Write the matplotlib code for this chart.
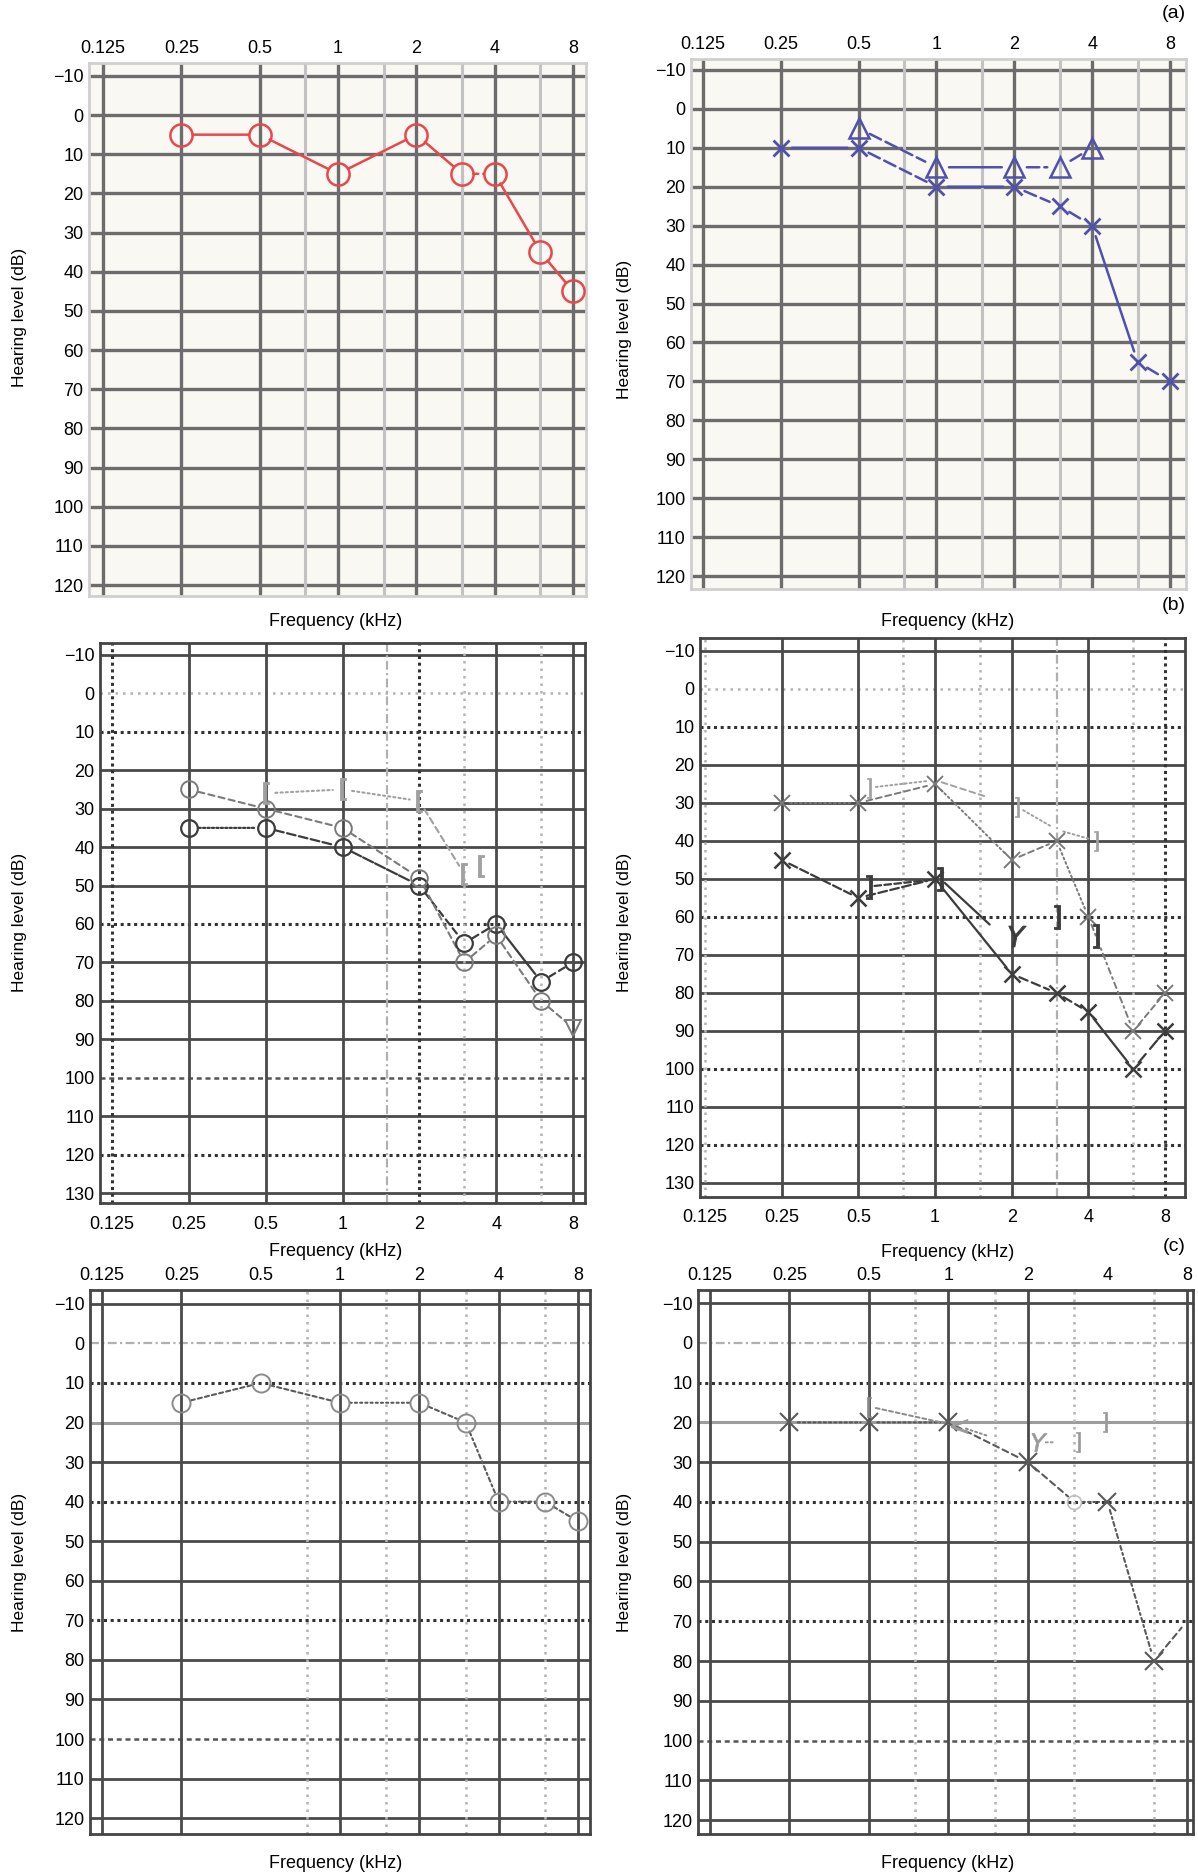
import matplotlib
matplotlib.use('Agg')
import matplotlib.pyplot as plt
from matplotlib.ticker import NullLocator

plt.rcParams['font.family'] = ['Liberation Sans', 'DejaVu Sans']

W, H = 1198, 1876

freq_ticks = [0.125, 0.25, 0.5, 1, 2, 4, 8]
freq_labels = ['0.125', '0.25', '0.5', '1', '2', '4', '8']
levels_120 = list(range(-10, 121, 10))
levels_130 = list(range(-10, 131, 10))

# (a) left ear - red circles
a_left_freq = [0.25, 0.5, 1, 2, 3, 4, 6, 8]
a_left_db = [5, 5, 15, 5, 15, 15, 35, 45]

# (a) right ear - blue crosses and triangles
a_right_x_freq = [0.25, 0.5, 1, 2, 3, 4, 6, 8]
a_right_x_db = [10, 10, 20, 20, 25, 30, 65, 70]
a_right_tri_freq = [0.5, 1, 2, 3, 4]
a_right_tri_db = [5, 15, 15, 15, 10]

# (b) left
b_left_o1_freq = [0.25, 0.5, 1, 2, 3, 4, 6, 8]
b_left_o1_db = [35, 35, 40, 50, 65, 60, 75, 70]
b_left_o2_freq = [0.25, 0.5, 1, 2, 3, 4, 6, 8]
b_left_o2_db = [25, 30, 35, 48, 70, 63, 80, 87]
b_left_bc_freq = [0.5, 1, 2, 3, 3.5]
b_left_bc_db = [26, 25, 28, 47, 45]

# (b) right
b_right_x1_freq = [0.25, 0.5, 1, 2, 3, 4, 6, 8]
b_right_x1_db = [45, 55, 50, 75, 80, 85, 100, 90]
b_right_x2_freq = [0.25, 0.5, 1, 2, 3, 4, 6, 8]
b_right_x2_db = [30, 30, 25, 45, 40, 60, 90, 80]
b_right_bc1_freq = [0.55, 1.05, 1.7, 3, 4.3]
b_right_bc1_db = [52, 50, 63, 60, 65]
b_right_bc2_freq = [0.55, 1.0, 1.7, 2.1, 3, 4.3]
b_right_bc2_db = [26, 24, 29, 31, 37, 40]

# (c) left
c_left_freq = [0.25, 0.5, 1, 2, 3, 4, 6, 8]
c_left_db = [15, 10, 15, 15, 20, 40, 40, 45]

# (c) right
c_right_freq = [0.25, 0.5, 1, 2, 3, 4, 6, 8]
c_right_db = [20, 20, 20, 30, 40, 40, 80, 70]
c_right_bc_freq = [0.5, 1.1, 1.5]
c_right_bc_db = [16, 21, 24]
c_right_bc2_freq = [2.2, 2.7, 3.1, 3.9]
c_right_bc2_db = [25, 25, 25, 20]

KINDS = {
    'a': dict(ls='-', color='#6c6c6c', lw=2.4),
    'al': dict(ls='-', color='#c2c2c2', lw=2.2),
    's': dict(ls='-', color='#4a4a4a', lw=2.0),
    'sl': dict(ls='-', color='#9c9c9c', lw=2.2),
    'd': dict(ls=(0, (1, 1.2)), color='#333333', lw=2.2),
    'dl': dict(ls=(0, (1, 2)), color='#b4b4b4', lw=1.8),
    'dd': dict(ls=(0, (4, 1.5, 1, 1.5)), color='#b0b0b0', lw=1.6),
    'dk': dict(ls=(0, (2, 1.5)), color='#555555', lw=1.8),
}


def make_ax(box, xpad, ylim, levels, top=True, bg='white', spine='#444444'):
    x0, y0, x1, y1 = box
    ax = fig.add_axes([x0 / W, 1 - y1 / H, (x1 - x0) / W, (y1 - y0) / H])
    ax.set_xscale('log', base=2)
    ax.set_xlim(0.125 * 2 ** xpad[0], 8 * 2 ** xpad[1])
    ax.set_ylim(ylim[1], ylim[0])
    ax.set_facecolor(bg)
    ax.set_xticks(freq_ticks, freq_labels)
    ax.xaxis.set_minor_locator(NullLocator())
    ax.set_yticks(levels, [str(v).replace('-', '\u2212') for v in levels])
    if top:
        ax.xaxis.tick_top()
        ax.tick_params(axis='x', length=0, labelsize=13, pad=4)
    else:
        ax.tick_params(axis='x', length=0, labelsize=13, pad=9)
    ax.tick_params(axis='y', length=0, labelsize=13, pad=4)
    for sp in ax.spines.values():
        sp.set_color(spine)
        sp.set_linewidth(2)
    return ax


def grid(ax, hkinds, vkinds):
    for y, k in hkinds.items():
        ax.axhline(y, zorder=1, **KINDS[k])
    for x, k in vkinds.items():
        ax.axvline(x, zorder=1, **KINDS[k])


def connect(ax, f, db, styles, color, lw, shrink):
    for i in range(len(f) - 1):
        if styles[i] is None:
            continue
        ax.annotate('', xy=(f[i + 1], db[i + 1]), xytext=(f[i], db[i]),
                    arrowprops=dict(arrowstyle='-', color=color, lw=lw,
                                    linestyle=styles[i], shrinkA=shrink,
                                    shrinkB=shrink), zorder=3)


fig = plt.figure(figsize=(W / 100, H / 100), dpi=100)

# ---------------- (a) ----------------
a_h = {y: 'a' for y in levels_120}
a_v = {0.125: 'a', 0.25: 'a', 0.5: 'a', 1: 'a', 2: 'a', 4: 'a', 8: 'a',
       0.75: 'al', 1.5: 'al', 3: 'al', 6: 'al'}

ax = make_ax((89, 63, 586, 596), (-0.179, 0.166), (-13.3, 122.8), levels_120,
             bg='#faf8f3', spine='#cfcfcf')
grid(ax, a_h, a_v)
red = '#e8484c'
connect(ax, a_left_freq, a_left_db, ['-', '-', '-', '-', (0, (2, 2)), '-', '-'], red, 1.8, 8)
ax.plot(a_left_freq, a_left_db, ls='none', marker='o', ms=16, mfc='none',
        mec=red, mew=1.8, zorder=4)

ax = make_ax((691, 59, 1186, 589), (-0.154, 0.206), (-12.8, 123.3), levels_120,
             bg='#faf8f3', spine='#cfcfcf')
grid(ax, a_h, a_v)
blue = '#4f50b0'
dash = (0, (5, 2))
connect(ax, a_right_x_freq, a_right_x_db, ['-', dash, '-', dash, dash, '-', dash], blue, 1.8, 8)
connect(ax, a_right_tri_freq, a_right_tri_db, [dash, '-', dash, dash], blue, 1.8, 9)
ax.plot(a_right_x_freq, a_right_x_db, ls='none', marker='x', ms=11,
        mec=blue, mew=2.0, zorder=4)
ax.plot(a_right_tri_freq, a_right_tri_db, ls='none', marker='^', ms=14,
        mfc='none', mec=blue, mew=1.8, zorder=4)

# ---------------- (b) ----------------
ax = make_ax((100, 643, 585, 1203), (-0.156, 0.156), (-13.1, 132.6), levels_130, top=False)
bh = {-10: 's', 0: 'dl', 10: 'd', 20: 's', 30: 's', 40: 's', 50: 's', 60: 'd',
      70: 's', 80: 's', 90: 's', 100: 'dk', 110: 's', 120: 'd', 130: 's'}
grid(ax, bh, {0.125: 'd', 0.25: 's', 0.5: 's', 1: 's', 1.5: 'dd', 2: 'd',
              3: 'dl', 4: 's', 6: 'dl', 8: 's'})
dark, mid, light = '#3c3c3c', '#7a7a7a', '#a0a0a0'
connect(ax, b_left_o1_freq, b_left_o1_db,
        [(0, (1, 1)), (0, (4, 1.5)), (0, (5, 1)), (0, (3, 2)), (0, (3, 2)), '-', (0, (3, 2))],
        dark, 1.6, 7)
connect(ax, b_left_o2_freq, b_left_o2_db, [(0, (3, 2))] * 7, mid, 1.5, 7)
connect(ax, b_left_bc_freq, b_left_bc_db,
        [(0, (1, 1.5)), (0, (1, 1.5)), (0, (3, 2)), None], light, 1.5, 7)
ax.plot(b_left_o1_freq, b_left_o1_db, ls='none', marker='o', ms=12, mfc='none',
        mec=dark, mew=1.6, zorder=4)
ax.plot(b_left_o2_freq[:-1], b_left_o2_db[:-1], ls='none', marker='o', ms=12,
        mfc='none', mec=mid, mew=1.4, zorder=4)
ax.plot(b_left_o2_freq[-1:], b_left_o2_db[-1:], ls='none', marker='v', ms=11,
        mfc='none', mec=mid, mew=1.4, zorder=4)
ax.plot(b_left_bc_freq, b_left_bc_db, ls='none', marker='$[$', ms=16,
        mec=light, mfc=light, mew=0.6, zorder=4)

ax = make_ax((700, 638, 1185, 1197), (-0.066, 0.26), (-13.4, 133.7), levels_130, top=False)
bh2 = dict(bh)
bh2[100] = 'd'
grid(ax, bh2, {0.125: 'dl', 0.25: 's', 0.5: 's', 0.75: 'dl', 1: 's', 1.5: 'dl',
               2: 's', 3: 'dd', 4: 's', 6: 'dl', 8: 'd'})
connect(ax, b_right_x1_freq, b_right_x1_db,
        [(0, (4, 1.5)), (0, (4, 1.5)), '-', (0, (4, 2)), (0, (4, 2)), '-', (0, (5, 3))],
        dark, 1.6, 6)
connect(ax, b_right_x2_freq, b_right_x2_db,
        [(0, (1, 1.5)), (0, (3, 2)), (0, (1, 1.5)), (0, (3, 2)), (0, (1, 1.5)),
         (0, (3, 2, 1, 2)), (0, (3, 2))], mid, 1.4, 6)
connect(ax, b_right_bc1_freq, b_right_bc1_db, [(0, (3, 1.5)), '-', None, None], dark, 1.6, 4)
connect(ax, b_right_bc2_freq, b_right_bc2_db,
        [(0, (1, 1.5)), (0, (3, 2)), None, (0, (1, 1.5)), (0, (1, 1.5))], light, 1.4, 5)
ax.plot(b_right_x1_freq, b_right_x1_db, ls='none', marker='x', ms=12,
        mec=dark, mew=1.8, zorder=4)
ax.plot(b_right_x2_freq, b_right_x2_db, ls='none', marker='x', ms=11,
        mec=mid, mew=1.4, zorder=4)
ax.plot([b_right_bc1_freq[i] for i in (0, 1, 3, 4)], [b_right_bc1_db[i] for i in (0, 1, 3, 4)],
        ls='none', marker='$]$', ms=17, mec=dark, mfc=dark, mew=0.6, zorder=4)
ax.plot([2.1], [65], ls='none', marker='$Y$', ms=15, mec=dark, mfc=dark, mew=0.6, zorder=4)
ax.plot([b_right_bc2_freq[i] for i in (0, 3, 5)], [b_right_bc2_db[i] for i in (0, 3, 5)],
        ls='none', marker='$]$', ms=15, mec=light, mfc=light, mew=0.5, zorder=4)

# ---------------- (c) ----------------
ch = {-10: 's', 0: 'dd', 10: 'd', 20: 'sl', 30: 's', 40: 'd', 50: 's', 60: 's',
      70: 'd', 80: 's', 90: 's', 100: 'dk', 110: 's', 120: 's'}

ax = make_ax((90, 1290, 590, 1834), (-0.151, 0.151), (-13.5, 124), levels_120)
grid(ax, ch, {0.125: 's', 0.25: 's', 0.75: 'dl', 1: 's', 1.5: 'dl', 2: 's',
              3: 'dl', 4: 's', 6: 'dl', 8: 's'})
connect(ax, c_left_freq, c_left_db,
        [(0, (2, 1.5)), (0, (2, 1.5)), (0, (1, 1.5)), (0, (2, 1.5)), (0, (2, 1.5, 1, 1.5)),
         (0, (1, 1.5)), (0, (2, 1.5))], '#5a5a5a', 1.5, 7)
ax.plot(c_left_freq, c_left_db, ls='none', marker='o', ms=13, mfc='none',
        mec='#8a8a8a', mew=1.4, zorder=4)

ax = make_ax((698, 1290, 1193, 1834), (-0.151, 0.076), (-13.3, 123.5), levels_120)
grid(ax, ch, {0.125: 's', 0.25: 's', 0.5: 's', 0.75: 'dl', 1: 's', 1.5: 'dl',
              2: 's', 3: 'dl', 6: 'dl', 8: 's'})
connect(ax, c_right_freq, c_right_db,
        [(0, (1, 1.5)), (0, (1, 1.5)), (0, (3, 2)), (0, (3, 2)), (0, (1, 1.5)),
         (0, (2, 1.5, 1, 1.5)), (0, (3, 2))], '#5a5a5a', 1.5, 6)
connect(ax, c_right_bc_freq, c_right_bc_db, [(0, (2, 1.5)), (0, (1, 1.5))], '#8a8a8a', 1.4, 5)
connect(ax, c_right_bc2_freq, c_right_bc2_db, [(0, (1, 1.5)), None, None], '#9a9a9a', 1.4, 5)
ax.plot([f for f in c_right_freq if f not in (3, 8)],
        [d for f, d in zip(c_right_freq, c_right_db) if f not in (3, 8)],
        ls='none', marker='x', ms=13, mec='#5a5a5a', mew=1.5, zorder=4)
ax.plot([3], [40], ls='none', marker='o', ms=10, mfc='none', mec='#c0c0c0', mew=1.2, zorder=4)
ax.plot(c_right_bc_freq[:1], c_right_bc_db[:1], ls='none', marker='$[$', ms=15,
        mec='#8a8a8a', mfc='#8a8a8a', mew=0.5, zorder=4)
ax.plot(c_right_bc_freq[1:2], c_right_bc_db[1:2], ls='none', marker='$<$', ms=12,
        mec='#9a9a9a', mfc='#9a9a9a', mew=0.5, zorder=4)
ax.plot(c_right_bc2_freq[:1], c_right_bc2_db[:1], ls='none', marker='$Y$', ms=13,
        mec='#9a9a9a', mfc='#9a9a9a', mew=0.5, zorder=4)
ax.plot(c_right_bc2_freq[2:], c_right_bc2_db[2:], ls='none', marker='$]$', ms=15,
        mec='#9a9a9a', mfc='#9a9a9a', mew=0.5, zorder=4)

# ---------------- labels ----------------
for x, y in [(20, 317), (625, 329), (20, 922), (625, 922), (20, 1562), (625, 1562)]:
    fig.text(x / W, 1 - y / H, 'Hearing level (dB)', rotation=90,
             ha='center', va='center', fontsize=12.5)
for x, y in [(336, 621), (948, 621), (336, 1251), (948, 1252), (336, 1863), (948, 1863)]:
    fig.text(x / W, 1 - y / H, 'Frequency (kHz)', ha='center', va='center', fontsize=13)
for s, y in [('(a)', 14), ('(b)', 605), ('(c)', 1246)]:
    fig.text(1174 / W, 1 - y / H, s, ha='center', va='center', fontsize=14)

fig.savefig('out.png', dpi=100)
